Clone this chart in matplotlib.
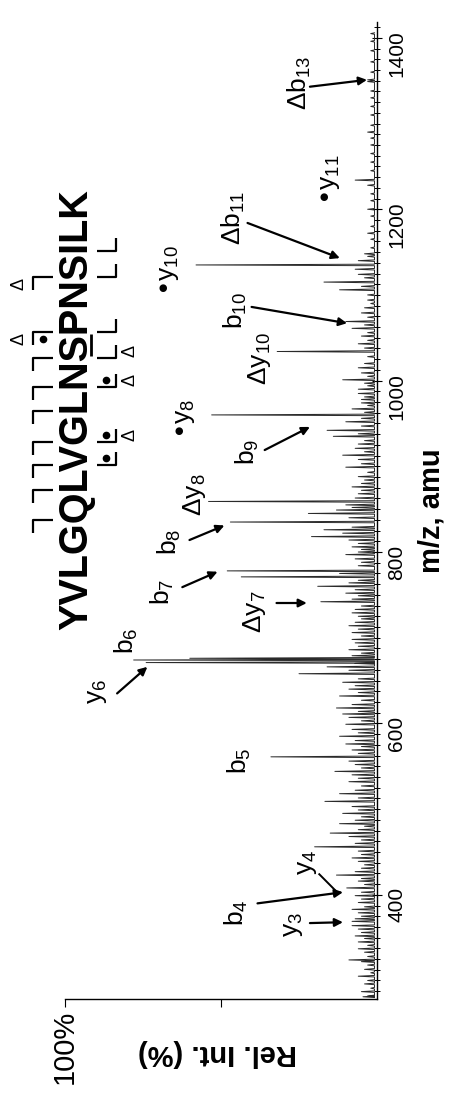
import numpy as np
import matplotlib
matplotlib.use('Agg')
import matplotlib.pyplot as plt
from matplotlib.lines import Line2D
from matplotlib.font_manager import FontProperties
from matplotlib.ticker import MultipleLocator

plt.rcParams['font.family'] = ['Liberation Sans', 'DejaVu Sans']
plt.rcParams['mathtext.default'] = 'regular'

# labelled / medium peaks (m/z, rel. int. %)
peak_mz = [281, 324, 345, 369, 408, 423, 456, 472, 483, 495, 509, 518, 532, 544,
           561, 576, 585, 599, 611, 618, 632, 640, 658, 666, 671, 674, 676, 686,
           698, 714, 729, 742, 752, 760, 771, 778, 784, 797, 806, 818, 826, 835,
           845, 859, 868, 880, 899, 913, 926, 935, 942, 952, 960, 974, 985, 1001,
           1015, 1034, 1043, 1061, 1069, 1079, 1094, 1106, 1115, 1124, 1135, 1140,
           1148, 1234, 1290, 1351]
peak_int = [4.5, 9, 6, 8, 9.7, 13, 20, 15, 12, 11, 16.7, 12, 9, 13.5,
            34, 10, 12, 10, 11, 13, 12, 9, 25, 16, 74, 78, 60, 9,
            8, 9, 8, 18, 10, 19, 43.5, 48, 6, 10, 8, 21, 17, 47,
            22, 54, 6, 5, 10, 11, 6, 14, 16, 10, 53, 5, 6, 11,
            6, 32, 6, 8, 10, 5, 3, 12, 17, 6, 58, 6,
            4, 7, 3, 3]

# small background peaks
noise_mz = [282, 287, 291, 296, 300, 305, 309, 313, 318, 322, 328, 333, 337, 341,
            349, 352, 356, 360, 364, 372, 375, 379, 383, 386, 391, 395, 399, 403,
            412, 416, 419, 427, 431, 435, 439, 443, 447, 451, 460, 464, 468, 476,
            480, 487, 491, 499, 503, 513, 522, 527, 536, 540, 548, 552, 556, 565,
            569, 573, 580, 589, 593, 603, 607, 614, 622, 627, 636, 644, 648, 652,
            662, 670, 679, 682, 690, 694, 702, 706, 710, 718, 722, 725, 733, 737,
            745, 749, 756, 764, 767, 775, 788, 792, 800, 803, 810, 814, 822, 829,
            840, 849, 852, 855, 863, 872, 876, 884, 888, 893, 903, 908, 917, 921,
            930, 938, 947, 956, 963, 967, 971, 978, 981, 990, 994, 997, 1005, 1009,
            1020, 1028, 1038, 1047, 1052, 1056, 1065, 1074, 1085, 1090, 1100, 1110,
            1120, 1130, 1145, 1155, 1165, 1172, 1180, 1192, 1200, 1210, 1218, 1228,
            1245, 1255, 1265, 1275, 1283, 1298, 1310, 1320, 1330, 1338, 1349, 1360,
            1372, 1385, 1396, 1405]
noise_int = [3, 5, 2, 4, 3, 6, 2, 4, 3, 5, 3, 4, 6, 3,
             4, 7, 5, 6, 8, 7, 5, 6, 8, 4, 6, 5, 7, 5,
             4, 6, 5, 7, 5, 4, 6, 8, 5, 6, 7, 5, 9, 6,
             4, 7, 5, 6, 8, 6, 7, 5, 6, 8, 5, 7, 9, 6,
             8, 5, 7, 6, 8, 5, 9, 6, 8, 5, 6, 7, 11, 6,
             9, 7, 8, 5, 6, 7, 5, 8, 6, 7, 5, 6, 7, 5,
             8, 6, 7, 9, 6, 12, 5, 7, 6, 5, 6, 9, 11, 8,
             9, 13, 8, 10, 7, 5, 8, 4, 6, 3, 5, 6, 4, 7,
             4, 6, 5, 5, 4, 8, 3, 5, 4, 6, 3, 4, 3, 5,
             4, 3, 4, 3, 5, 3, 4, 3, 4, 2, 3, 5,
             4, 7, 3, 2, 2, 3, 2, 2, 3, 2, 2, 3,
             2, 2, 2, 2, 2, 2, 2, 2, 2, 2, 3, 2,
             2, 2, 2, 2]

# fragment labels and their positions (rel. int. %, m/z)
ion_text = ['y$_3$', 'b$_4$', 'y$_4$', 'b$_5$', 'y$_6$', 'b$_6$', 'b$_7$', 'b$_8$',
            '\u0394y$_8$', '\u0394y$_7$', '\u2022y$_8$', 'b$_9$', '\u0394y$_{10}$',
            'b$_{10}$', '\u2022y$_{10}$', '\u0394b$_{11}$', '\u2022y$_{11}$', '\u0394b$_{13}$']
ion_int = [27, 45, 22.5, 44, 89.7, 80.4, 68.8, 66.6, 58.5, 39.2, 61.4, 41.5, 37.6,
           45.3, 66.6, 46, 15, 24.8]
ion_mz = [365, 379, 438, 557, 637, 697, 753, 812, 867, 730, 956, 917, 1026,
          1082, 1129, 1190, 1234, 1348]

# arrows (tail -> head), rel. int. % and m/z
arrow_tail_int = [21.5, 38.3, 83.3, 62.4, 60.1, 32.2, 36, 40.2, 41.5, 21.5]
arrow_tail_mz = [367, 390, 635, 759, 814, 740.5, 919, 1086, 1184, 1343]
arrow_head_int = [10.9, 10.9, 73.6, 51.1, 48.9, 22.5, 21.5, 9.6, 11.9, 3.2]
arrow_head_mz = [368, 403, 666, 777, 831, 740.5, 946, 1067, 1143, 1351]

# sequence with fragmentation marks (cut after residue n)
SEQUENCE = 'YVLGQLVGLNSPNSILK'
b_cuts = [4, 5, 6, 7, 8, 9, 10, 11, 13]
b_dot = [False, False, False, False, False, False, False, True, False]
b_delta = [False, False, False, False, False, False, False, True, True]
y_cuts = [14, 13, 11, 10, 9, 7, 6]
y_dot = [False, False, False, False, True, True, True]
y_delta = [False, False, False, True, True, True, False]
underlined = 11

W, H = 450, 1104
fig = plt.figure(figsize=(W / 100, H / 100), dpi=100)
ax = fig.add_axes([65 / W, 105 / H, 312 / W, 977 / H])

# profile trace built from the peak list
all_mz = np.array(peak_mz + noise_mz, dtype=float)
all_int = np.array(peak_int + noise_int, dtype=float)
order = np.argsort(all_mz)
mz_s, int_s = all_mz[order], all_int[order]
hw = 0.9
base = 0.8
trace_mz = np.column_stack([mz_s - hw, mz_s, mz_s + hw]).ravel()
trace_int = np.column_stack([np.full_like(int_s, base), int_s, np.full_like(int_s, base)]).ravel()
ax.plot(trace_int, trace_mz, color='#2a2a2a', lw=0.7)

ax.set_xlim(100, 0)
ax.set_ylim(278.4, 1418.5)

for s in ['left', 'top']:
    ax.spines[s].set_visible(False)
for s in ['right', 'bottom']:
    ax.spines[s].set_linewidth(1.0)

ax.yaxis.tick_right()
ax.yaxis.set_label_position('right')
ax.set_yticks(range(400, 1401, 200))
ax.yaxis.set_minor_locator(MultipleLocator(12.5))
ax.tick_params(axis='y', which='major', direction='inout', length=7, width=0.8,
               labelrotation=90, labelsize=15, pad=4)
ax.tick_params(axis='y', which='minor', direction='inout', length=5, width=0.7)
ax.set_ylabel('m/z, amu', fontsize=21, fontweight='bold', labelpad=8)

ax.set_xticks([100, 50])
ax.set_xticklabels(['100%', ''])
ax.tick_params(axis='x', direction='out', length=6, width=0.8, labelrotation=90,
               labelsize=21, pad=2)
ax.set_xlabel('Rel. Int. (%)', rotation=180, fontsize=21, fontweight='bold')
ax.xaxis.set_label_coords(0.49, -0.055)
ax.xaxis.label.set_va('center')

for txt, xi, yi in zip(ion_text, ion_int, ion_mz):
    ax.text(xi, yi, txt, rotation=90, ha='center', va='center', fontsize=19,
            clip_on=False)

for ti, tm, hi, hm in zip(arrow_tail_int, arrow_tail_mz, arrow_head_int, arrow_head_mz):
    ax.annotate('', xy=(hi, hm), xytext=(ti, tm),
                arrowprops=dict(arrowstyle='-|>', color='black', lw=1.6,
                                mutation_scale=12, shrinkA=0, shrinkB=0))
# y4 shares the b4 arrow head
ax.plot([18.5, 12.5], [424, 402], color='black', lw=1.4)

# peptide sequence, read bottom to top
seq_size = 28.5
seq_x, seq_y0 = 87, H - 630
fig.text(seq_x / W, seq_y0 / H, SEQUENCE, rotation=90, rotation_mode='anchor',
         ha='left', va='baseline', fontsize=seq_size, fontweight='bold')

renderer = fig.canvas.get_renderer()
prop = FontProperties(family='Liberation Sans', weight='bold', size=seq_size)


def cut_pos(n):
    w, h, d = renderer.get_text_width_height_descent(SEQUENCE[:n], prop, ismath=False)
    return seq_y0 + w + 2


def fig_line(xs, ys, lw=1.6):
    fig.add_artist(Line2D([x / W for x in xs], [y / H for y in ys],
                          transform=fig.transFigure, color='black', lw=lw,
                          solid_capstyle='butt'))


def fig_dot(x, y):
    fig.add_artist(Line2D([x / W], [y / H], transform=fig.transFigure,
                          marker='o', markersize=4.5, color='black', lw=0))


hook = 13
for n, dot, delta in zip(b_cuts, b_dot, b_delta):
    yc = cut_pos(n)
    fig_line([53, 33, 33], [yc, yc, yc - hook])
    if dot:
        fig_dot(43, yc - 7)
    if delta:
        fig.text(19 / W, (yc - 7) / H, '\u0394', rotation=90, ha='center',
                 va='center', fontsize=13)

for n, dot, delta in zip(y_cuts, y_dot, y_delta):
    yc = cut_pos(n)
    fig_line([97, 116, 116], [yc, yc, yc + hook])
    if dot:
        fig_dot(106, yc + 7)
    if delta:
        fig.text(130 / W, (yc + 7) / H, '\u0394', rotation=90, ha='center',
                 va='center', fontsize=13)

# underline the modified serine
fig_line([91, 91], [cut_pos(underlined - 1) + 2, cut_pos(underlined) - 2], lw=2)

fig.savefig('out.png', dpi=100)
